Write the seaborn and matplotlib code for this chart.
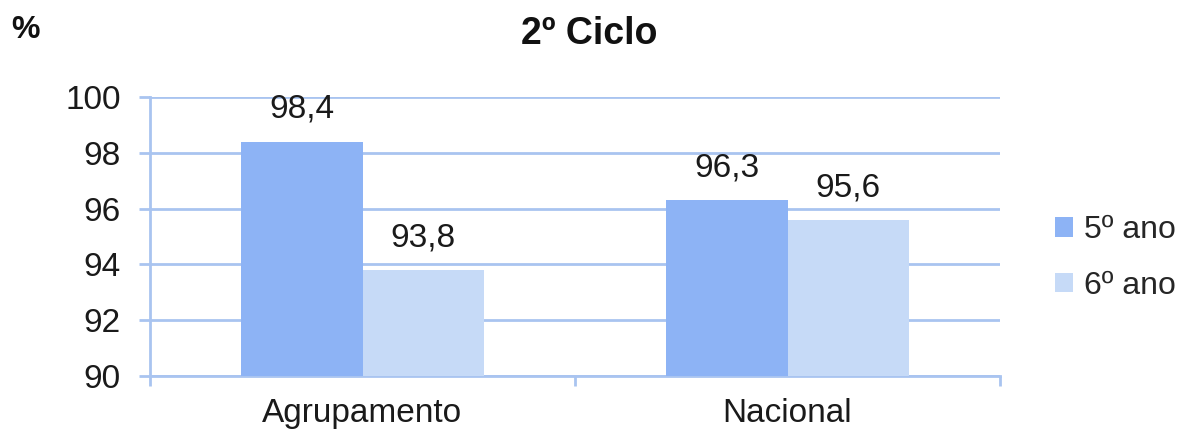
import matplotlib
matplotlib.use("Agg")
import matplotlib.pyplot as plt
import seaborn as sns
import pandas as pd

categories = ["Agrupamento", "Nacional"]
series_names = ["5º ano", "6º ano"]
values_5 = [98.4, 96.3]
values_6 = [93.8, 95.6]
value_labels_5 = ["98,4", "96,3"]
value_labels_6 = ["93,8", "95,6"]
y_ticks = [90, 92, 94, 96, 98, 100]

df = pd.DataFrame({
    "cat": categories * 2,
    "serie": [series_names[0]] * 2 + [series_names[1]] * 2,
    "val": values_5 + values_6,
})

sns.set_theme(style="white")
plt.rcParams["font.family"] = ["Liberation Sans", "DejaVu Sans"]

c5 = "#8db3f5"
c6 = "#c6daf7"
grid_c = "#a9c4f0"
txt_c = "#1a1a1a"
fs = 24

fig = plt.figure(figsize=(11.82, 4.30), dpi=100)
ax = fig.add_axes([150 / 1182, 1 - 376 / 430, 850 / 1182, (376 - 97) / 430])

sns.barplot(data=df, x="cat", y="val", hue="serie", palette=[c5, c6],
            width=0.57, ax=ax, saturation=1, legend=True, zorder=3, linewidth=0)

ax.set_ylim(90, 100)
ax.set_xlim(-0.5, 1.5)
ax.set_yticks(y_ticks)
ax.set_yticklabels([str(t) for t in y_ticks], fontsize=fs, color=txt_c)
ax.yaxis.grid(True, color=grid_c, linewidth=2, zorder=0)
ax.set_axisbelow(True)
ax.set_xlabel("")
ax.set_ylabel("")

for s in ["top", "right"]:
    ax.spines[s].set_visible(False)
for s in ["left", "bottom"]:
    ax.spines[s].set_color(grid_c)
    ax.spines[s].set_linewidth(2)

ax.tick_params(axis="y", which="major", length=8, width=2, color=grid_c, direction="out", pad=13, left=True)
ax.tick_params(axis="x", which="major", length=0, labelsize=fs, pad=16, labelcolor=txt_c)
ax.set_xticks([-0.5, 0.5, 1.5], minor=True)
ax.tick_params(axis="x", which="minor", length=7, width=2, color=grid_c, direction="out", bottom=True)

for i, cont in enumerate(ax.containers):
    labs = value_labels_5 if i == 0 else value_labels_6
    ax.bar_label(cont, labels=labs, padding=12, fontsize=fs, color=txt_c)

handles, labels = ax.get_legend_handles_labels()
ax.legend(handles, labels, loc="center left", bbox_to_anchor=(1055 / 850 - 150 / 850, 1 - (258 - 97) / 279),
          frameon=False, borderaxespad=0, borderpad=0,
          fontsize=23, handlelength=0.55, handleheight=0.55, handletextpad=0.35, labelspacing=0.8)

fig.text(589 / 1182, 1 - 34 / 430, "2º Ciclo", ha="center", va="center", fontsize=27, fontweight="bold", color="#111111")
fig.text(26 / 1182, 1 - 30 / 430, "%", ha="center", va="center", fontsize=23, fontweight="bold", color="#111111")

fig.savefig("out.png", dpi=100)
